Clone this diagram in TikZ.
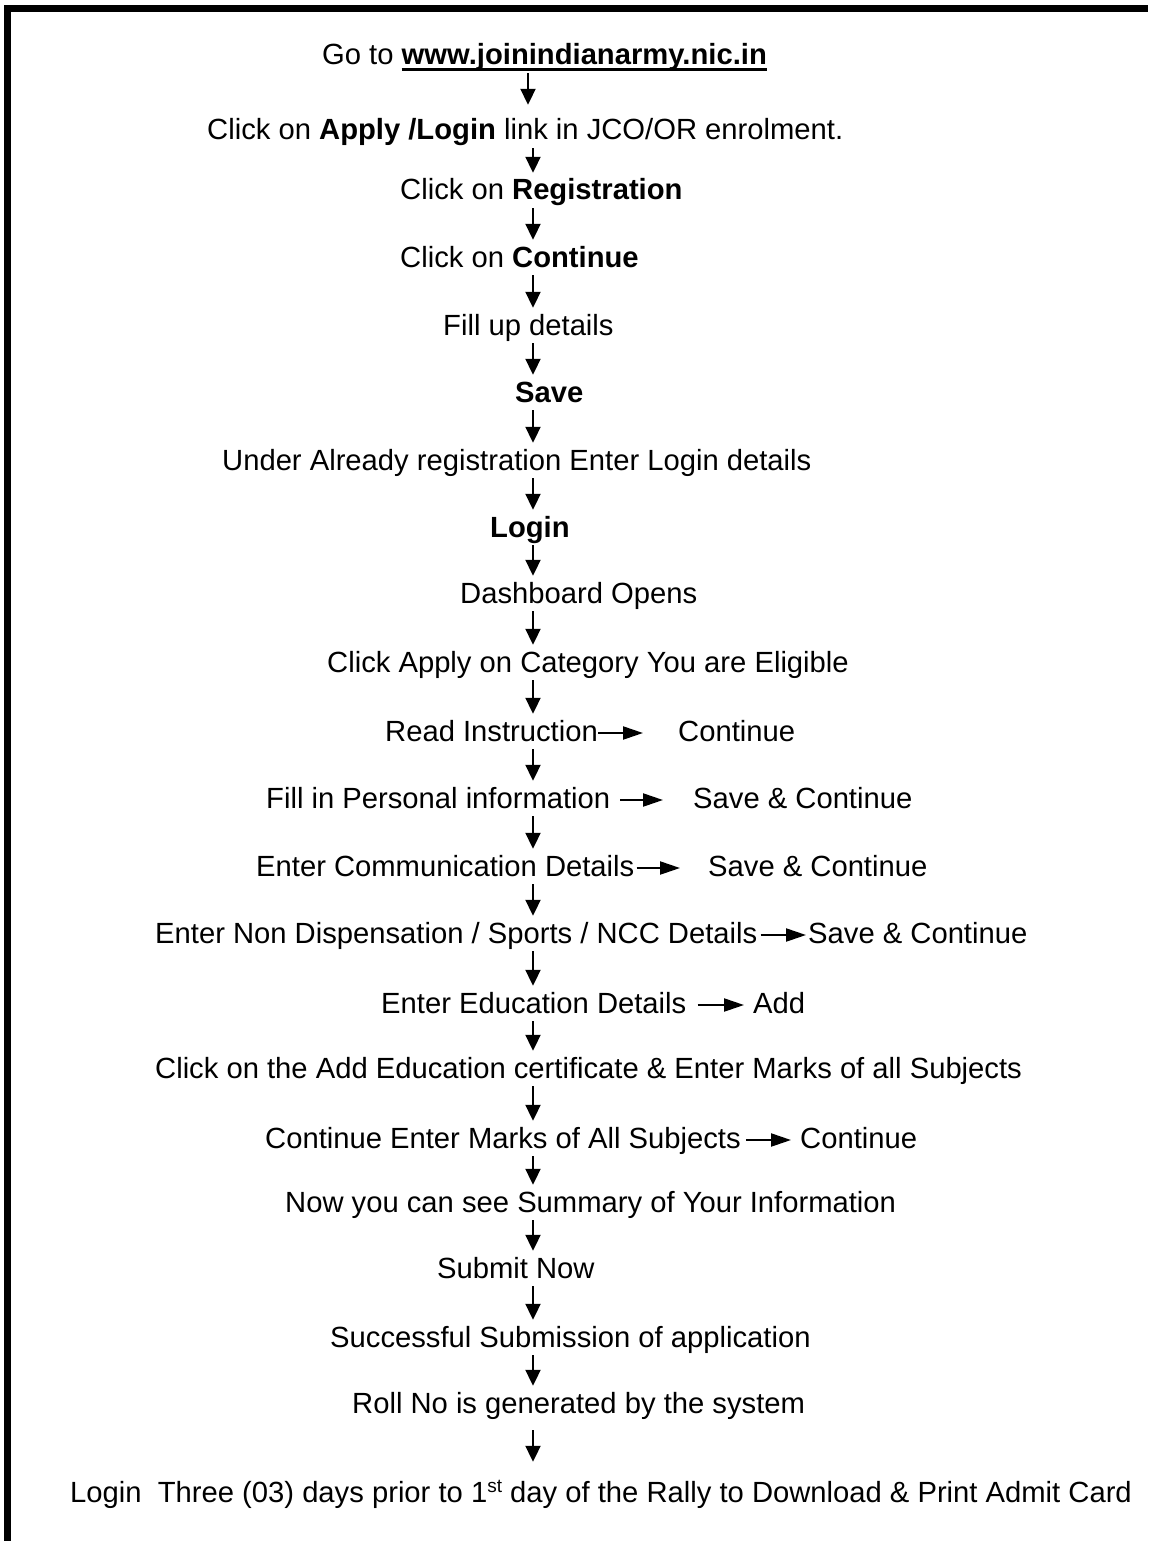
\documentclass[tikz,border=0pt]{standalone}
\usepackage{fontspec}
\setmainfont{Liberation Sans}
\usetikzlibrary{arrows.meta}

\newsavebox{\urlbox}
\newcommand{\urlline}[1]{\sbox{\urlbox}{#1}\rlap{\rule[-5.7pt]{\wd\urlbox}{2.4pt}}\usebox{\urlbox}}

\begin{document}
\begin{tikzpicture}[x=1pt, y=-1pt,
  line/.style={inner sep=0pt, anchor=base west, text height=22pt, text depth=6pt,
    font=\fontsize{29.2}{35}\selectfont},
  down/.style={-{Triangle[length=16pt,width=15pt]}, line width=2pt, shorten <=2pt, shorten >=5pt},
  side/.style={-{Triangle[length=20pt,width=13pt]}, line width=2.2pt}
]
\useasboundingbox (0,0) rectangle (1148,1541);

% frame, left and top edge only
\draw[line width=7pt] (7.5,1541) -- (7.5,8.5) -- (1148,8.5);

% main steps
\node[line] (go) at (322,65) {Go to \urlline{\textbf{www.joinindianarmy.nic.in}}};
\node[line] (apply) at (207,140) {Click on \textbf{Apply /Login} link in JCO/OR enrolment.};
\node[line] (reg) at (400,200) {Click on \textbf{Registration}};
\node[line] (cont) at (400,267) {Click on \textbf{Continue}};
\node[line] (fill) at (443,335) {Fill up details};
\node[line] (save) at (515,402) {\textbf{Save}};
\node[line] (under) at (222,470) {Under Already registration Enter Login details};
\node[line] (login) at (490,537) {\textbf{Login}};
\node[line] (dash) at (460,603) {Dashboard Opens};
\node[line] (cat) at (327,672) {Click Apply on Category You are Eligible};
\node[line] (read) at (385,741) {Read Instruction};
\node[line] (pers) at (266,808) {Fill in Personal information};
\node[line] (comm) at (256,876) {Enter Communication Details};
\node[line] (ncc) at (155,943) {Enter Non Dispensation / Sports / NCC Details};
\node[line] (edu) at (381,1013) {Enter Education Details};
\node[line] (cert) at (155,1078) {Click on the Add Education certificate \& Enter Marks of all Subjects};
\node[line] (marks) at (265,1148) {Continue Enter Marks of All Subjects};
\node[line] (summ) at (285,1212) {Now you can see Summary of Your Information};
\node[line] (submit) at (437,1278) {Submit Now};
\node[line] (done) at (330,1347) {Successful Submission of application};
\node[line] (roll) at (352,1413) {Roll No is generated by the system};
\node[line] (admit) at (70,1502) {Login\ \ Three (03) days prior to 1\raisebox{10pt}{\fontsize{19}{20}\selectfont st} day of the Rally to Download \& Print Admit Card};

% side results
\node[line] (readc) at (678,741) {Continue};
\node[line] (persc) at (693,808) {Save \& Continue};
\node[line] (commc) at (708,876) {Save \& Continue};
\node[line] (nccc) at (808,943) {Save \& Continue};
\node[line] (eduadd) at (753,1013) {Add};
\node[line] (marksc) at (800,1148) {Continue};

% down arrows
\coordinate (ax0) at (528,0);
\coordinate (ax) at (533,0);
\draw[down, shorten >=13pt] (go.south -| ax0) -- (apply.north -| ax0);
\foreach \a/\b in {apply/reg, reg/cont, cont/fill, fill/save, save/under, under/login,
    login/dash, dash/cat, cat/read, read/pers, pers/comm, comm/ncc, ncc/edu, edu/cert,
    cert/marks, marks/summ, summ/submit, submit/done, done/roll}
  \draw[down] (\a.south -| ax) -- (\b.north -| ax);
\draw[down, shorten <=11pt, shorten >=18pt] (roll.south -| ax) -- (admit.north -| ax);

% side arrows
\draw[side, shorten >=35pt] (read.east) -- (readc.west);
\draw[side, shorten <=10pt, shorten >=30pt] (pers.east) -- (persc.west);
\draw[side, shorten <=2pt, shorten >=28pt] (comm.east) -- (commc.west);
\draw[side, shorten <=3pt, shorten >=2pt] (ncc.east) -- (nccc.west);
\draw[side, shorten <=11pt, shorten >=9pt] (edu.east) -- (eduadd.west);
\draw[side, shorten <=5pt, shorten >=9pt] (marks.east) -- (marksc.west);

\end{tikzpicture}
\end{document}
